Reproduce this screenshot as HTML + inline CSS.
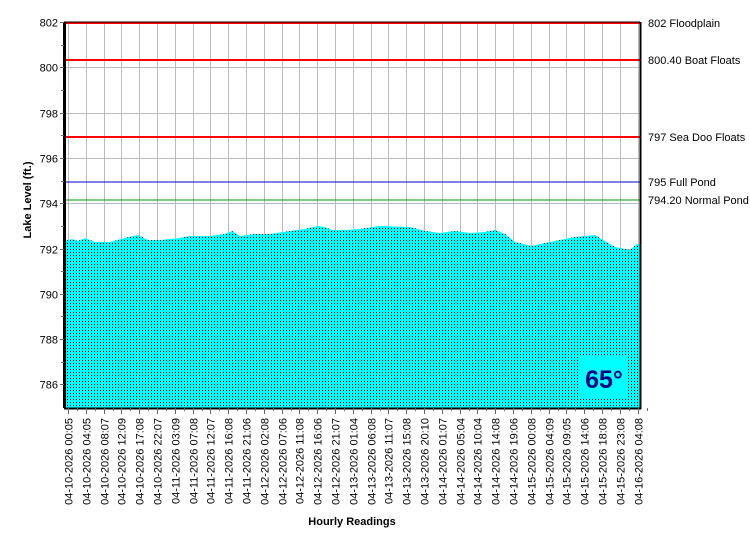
<!DOCTYPE html>
<html><head><style>body{margin:0;background:#fff}svg{display:block;font-family:"Liberation Sans",sans-serif}</style></head>
<body>
<svg width="750" height="550" viewBox="0 0 750 550" xmlns="http://www.w3.org/2000/svg">
<defs>
<pattern id="dots" width="3" height="3" patternUnits="userSpaceOnUse"><rect x="1" y="0" width="1" height="1" fill="#000"/></pattern>
</defs>
<rect x="64" y="22" width="576" height="386" fill="#fff"/>
<g stroke="#bbb" stroke-width="1" id="grid"></g>
<polygon id="area" fill="#00ffff"/>
<polygon id="area2" fill="url(#dots)"/>
<rect x="580" y="355" width="48" height="43" fill="#00ffff"/>
<text x="604" y="388" font-size="25" font-weight="bold" fill="#000080" text-anchor="middle">65°</text>
<line x1="64" y1="23" x2="640" y2="23" stroke="#f00" stroke-width="2"/>
<line x1="64" y1="60" x2="640" y2="60" stroke="#f00" stroke-width="2"/>
<line x1="64" y1="137" x2="640" y2="137" stroke="#f00" stroke-width="2"/>
<line x1="64" y1="182" x2="640" y2="182" stroke="#00c" stroke-width="1"/>
<line x1="64" y1="200" x2="640" y2="200" stroke="#090" stroke-width="1"/>
<line x1="64" y1="22" x2="640" y2="22" stroke="#000" stroke-width="1"/>
<line x1="64.5" y1="22" x2="64.5" y2="408" stroke="#000" stroke-width="3"/>
<line x1="640.5" y1="22" x2="640.5" y2="409" stroke="#000" stroke-width="2"/>
<line x1="64" y1="408.5" x2="641" y2="408.5" stroke="#000" stroke-width="2"/>
<g id="ticks" stroke="#666"></g>
<g font-size="11" fill="#000" text-anchor="end" id="ylab"></g>
<g font-size="11" fill="#000">
<text x="648" y="27">802 Floodplain</text>
<text x="648" y="64">800.40 Boat Floats</text>
<text x="648" y="141">797 Sea Doo Floats</text>
<text x="648" y="186">795 Full Pond</text>
<text x="648" y="204">794.20 Normal Pond</text>
</g>
<g font-size="11" fill="#000" id="xlab"></g>
<text transform="translate(31,200) rotate(-90)" font-size="11" font-weight="bold" text-anchor="middle">Lake Level (ft.)</text>
<text x="352" y="525" font-size="11" font-weight="bold" text-anchor="middle">Hourly Readings</text>
</svg>
<script>
var ns="http://www.w3.org/2000/svg";
function el(p,t,a,txt){var e=document.createElementNS(ns,t);for(var k in a)e.setAttribute(k,a[k]);if(txt)e.textContent=txt;document.getElementById(p).appendChild(e);return e;}
function yv(v){return 22+(802-v)*22.65;}
for(var v=786;v<=802;v+=2){var y=Math.round(yv(v))+0.5;el('grid','line',{x1:64,x2:640,y1:y,y2:y});el('ylab','text',{x:58,y:y+4},String(v));el('ticks','line',{x1:60,x2:64,y1:y,y2:y});el('ticks','line',{x1:61,x2:64,y1:Math.round(yv(v+1))+.5,y2:Math.round(yv(v+1))+.5});}
var L=["04-10-2026 00:05","04-10-2026 04:05","04-10-2026 08:07","04-10-2026 12:09","04-10-2026 17:08","04-10-2026 22:07","04-11-2026 03:09","04-11-2026 07:08","04-11-2026 12:07","04-11-2026 16:08","04-11-2026 21:06","04-12-2026 02:08","04-12-2026 07:06","04-12-2026 11:08","04-12-2026 16:06","04-12-2026 21:07","04-13-2026 01:04","04-13-2026 06:08","04-13-2026 11:07","04-13-2026 15:08","04-13-2026 20:10","04-14-2026 01:07","04-14-2026 05:04","04-14-2026 10:04","04-14-2026 14:08","04-14-2026 19:06","04-15-2026 00:08","04-15-2026 04:09","04-15-2026 09:05","04-15-2026 14:06","04-15-2026 18:08","04-15-2026 23:08","04-16-2026 04:08"];
for(var i=0;i<L.length;i++){var x=Math.round(68+i*17.8)+0.5;el('grid','line',{x1:x,x2:x,y1:22,y2:408});el('ticks','line',{x1:x,x2:x,y1:408,y2:414});el('ticks','line',{x1:x+9,x2:x+9,y1:408,y2:411});
el('xlab','text',{transform:'translate('+(x+4)+',418) rotate(-90)','text-anchor':'end'},L[i]);}
var P=[[65,241],[72,239],[78,241],[85,238],[95,242],[110,242],[125,238],[138,235],[148,240],[160,240],[170,239],[180,238],[190,236],[210,236],[225,234],[232,231],[240,236],[255,234],[270,234],[290,231],[305,229],[318,226],[325,227],[332,230],[345,230],[360,229],[380,226],[410,227],[425,231],[440,233],[455,231],[470,233],[485,232],[495,230],[505,234],[515,242],[532,246],[545,243],[560,240],[575,237],[595,235],[603,240],[615,247],[630,250],[637,244],[640,244]];
var s="64,408 ";P.forEach(function(p){s+=p[0]+","+p[1]+" ";});s+="640,408";
document.getElementById('area').setAttribute('points',s);document.getElementById('area2').setAttribute('points',s);
</script>
</body></html>
